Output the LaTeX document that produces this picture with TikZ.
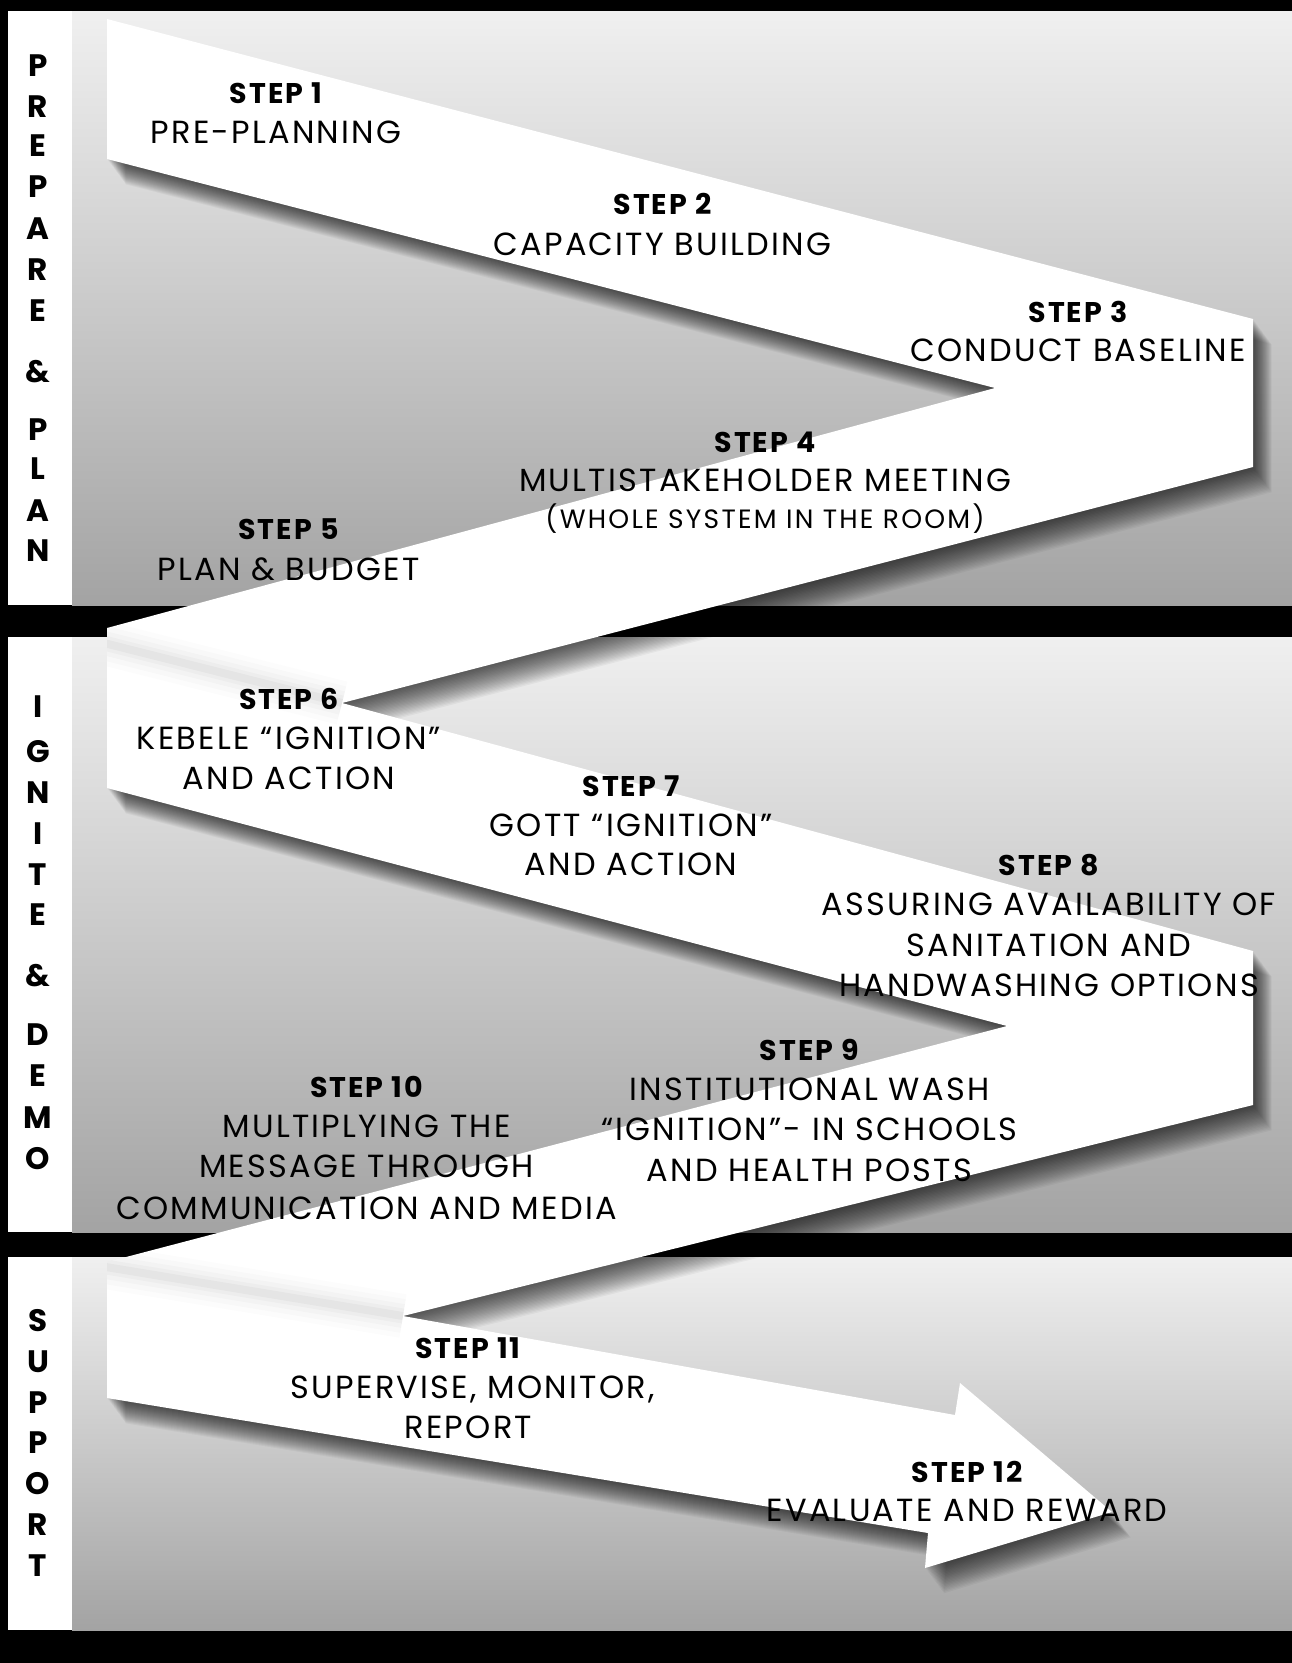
\documentclass[tikz,border=0pt]{standalone}
\usepackage{fontspec}
\setmainfont{Poppins}
\begin{document}
\begin{tikzpicture}[x=1pt,y=-1pt,
  txt/.style={font=\fontsize{32}{36}\selectfont\addfontfeature{LetterSpace=7}, anchor=base, inner sep=0pt, text=black},
  stp/.style={font=\fontsize{28.5}{32}\selectfont\bfseries\addfontfeature{LetterSpace=7}, anchor=base, inner sep=0pt, text=black},
  sml/.style={font=\fontsize{26.5}{30}\selectfont\addfontfeature{LetterSpace=8.5}, anchor=base, inner sep=0pt, text=black},
  vl/.style={font=\fontsize{31}{34}\selectfont\bfseries, anchor=base, inner sep=0pt, text=black},
  panel/.style={top color=white!94!black, bottom color=white!64!black},
]
\useasboundingbox (0,0) rectangle (1292,1663);
\fill[black] (0,0) rectangle (1292,1663);
% panels
\foreach \a/\b in {11/605, 637/1232, 1257/1630}{
  \fill[white] (8,\a) rectangle (72,\b);
  \shade[panel] (72,\a) rectangle (1292,\b);
}
\def\zz{(107,19) -- (1253,319) -- (1253,467) -- (342,703) -- (1253,951) -- (1253,1105) -- (403,1316) -- (955,1415) -- (960,1383) -- (1112,1512) -- (925,1568) -- (928,1533) -- (107,1398) -- (107,1262) -- (1007,1026) -- (107,788) -- (107,628) -- (995,388) -- (107,159) -- cycle}
% directional soft shadow
\foreach \k in {1,...,22}{
  \begin{scope}[shift={(0.85*\k,1.15*\k)}]
    \fill[black, opacity=0.038] \zz;
  \end{scope}
}
% band
\fill[white] \zz;
% creases
\begin{scope}
  \clip \zz;
  \foreach \w/\o in {44/0.012,34/0.015,24/0.02,15/0.025,8/0.03}{
    \draw[black, opacity=\o, line width=\w pt] (100,642) -- (342,703);
    \draw[black, opacity=\o, line width=\w pt] (100,1266) -- (403,1316);
  }
\end{scope}
% vertical labels
\foreach \l/\y [count=\i] in {P/65.8,R/106.1,E/145.3,P/186.7,A/228.1,R/269.4,E/310.8,\&/371.3,P/429.6,L/468.9,A/510.2,N/550.6}
  \node[vl] (pp\i) at (38,\y+11) {\l};
\foreach \l/\y [count=\i] in {I/706.5,G/751.0,N/792.4,I/833.8,T/874.1,E/914.4,\&/975.9,D/1034.3,E/1075.7,M/1117.0,O/1158.4}
  \node[vl] (id\i) at (38,\y+11) {\l};
\foreach \l/\y [count=\i] in {S/1320.7,U/1361.0,P/1402.4,P/1442.7,O/1483.0,R/1524.4,T/1565.7}
  \node[vl] (su\i) at (38,\y+11) {\l};
% steps
\node[stp] (s1a) at (276,103.3) {STEP 1};
\node[txt] (s1b) at (276,143.6) {PRE-PLANNING};
\node[stp] (s2a) at (662.5,214.7) {STEP 2};
\node[txt] (s2b) at (662.5,255) {CAPACITY BUILDING};
\node[stp] (s3a) at (1078,322) {STEP 3};
\node[txt] (s3b) at (1078,361) {CONDUCT BASELINE};
\node[stp] (s4a) at (765,452) {STEP 4};
\node[txt] (s4b) at (765,491.5) {MULTISTAKEHOLDER MEETING};
\node[sml] (s4c) at (765,528.5) {(WHOLE SYSTEM IN THE ROOM)};
\node[stp] (s5a) at (288.5,539) {STEP 5};
\node[txt] (s5b) at (288.5,580.6) {PLAN \& BUDGET};
\node[stp] (s6a) at (289,709) {STEP 6};
\node[txt] (s6b) at (289,749.3) {KEBELE “IGNITION”};
\node[txt] (s6c) at (289,789.6) {AND ACTION};
\node[stp] (s7a) at (631,796) {STEP 7};
\node[txt] (s7b) at (631,836.3) {GOTT “IGNITION”};
\node[txt] (s7c) at (631,875.6) {AND ACTION};
\node[stp] (s8a) at (1049,875.6) {STEP 8};
\node[txt] (s8b) at (1049,915.9) {ASSURING AVAILABILITY OF};
\node[txt] (s8c) at (1049,956.2) {SANITATION AND};
\node[txt] (s8d) at (1049,996.5) {HANDWASHING OPTIONS};
\node[stp] (s9a) at (809.4,1060.2) {STEP 9};
\node[txt] (s9b) at (809.4,1100.4) {INSTITUTIONAL WASH};
\node[txt] (s9c) at (809.4,1140.8) {“IGNITION”- IN SCHOOLS};
\node[txt] (s9d) at (809.4,1181.1) {AND HEALTH POSTS};
\node[stp] (s10a) at (366.5,1097.3) {STEP 10};
\node[txt] (s10b) at (366.5,1137.6) {MULTIPLYING THE};
\node[txt] (s10c) at (366.5,1177.9) {MESSAGE THROUGH};
\node[txt] (s10d) at (366.5,1219.2) {COMMUNICATION AND MEDIA};
\node[stp] (s11a) at (468,1358.3) {STEP 11};
\node[txt] (s11b) at (472.6,1398.5) {SUPERVISE, MONITOR,};
\node[txt] (s11c) at (468.3,1438.8) {REPORT};
\node[stp] (s12a) at (967,1482.4) {STEP 12};
\node[txt] (s12b) at (967,1521.6) {EVALUATE AND REWARD};
\end{tikzpicture}
\end{document}
